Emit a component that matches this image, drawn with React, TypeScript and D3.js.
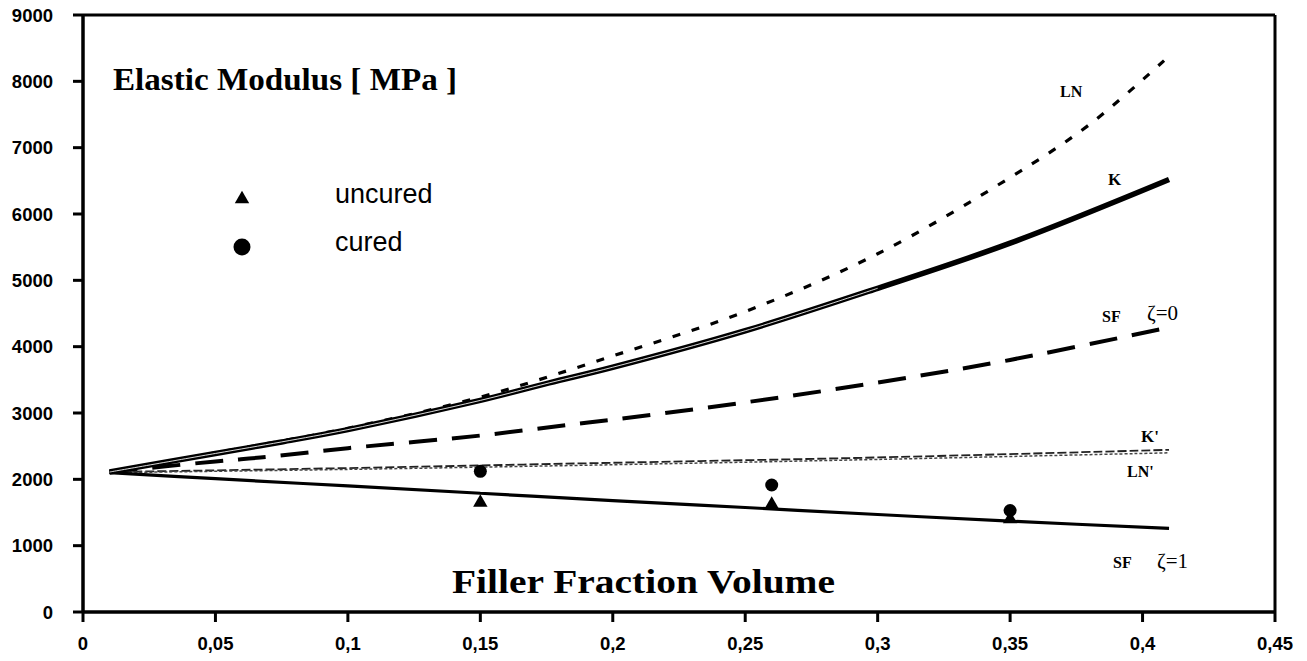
import React from 'react';
import * as d3 from 'd3';

// x: filler fraction volume, y: elastic modulus [MPa]
const xK = [0.01, 0.05, 0.075, 0.1, 0.15, 0.176, 0.2, 0.25, 0.3, 0.35, 0.41];
const yK = [2110, 2390, 2564, 2750, 3190, 3454, 3690, 4240, 4880, 5560, 6520];

const xLN = [0.01, 0.05, 0.1, 0.15, 0.2, 0.25, 0.3, 0.35, 0.38, 0.41];
const yLN = [2110, 2400, 2770, 3240, 3860, 4530, 5400, 6550, 7350, 8380];

const xSF0 = [0.01, 0.05, 0.07, 0.1, 0.15, 0.183, 0.2, 0.25, 0.3, 0.35, 0.41];
const ySF0 = [2110, 2270, 2340, 2470, 2660, 2820, 2900, 3160, 3460, 3800, 4290];

const xKp = [0.01, 0.1, 0.2, 0.3, 0.41];
const yKp = [2110, 2170, 2250, 2330, 2445];
const xLNp = [0.01, 0.1, 0.2, 0.3, 0.41];
const yLNp = [2100, 2150, 2220, 2300, 2400];

const xSF1 = [0.01, 0.05, 0.1, 0.15, 0.2, 0.25, 0.3, 0.35, 0.41];
const ySF1 = [2100, 2010, 1900, 1790, 1680, 1575, 1470, 1370, 1260];

const xMeas = [0.15, 0.26, 0.35];
const yUncured = [1650, 1620, 1400];
const yCured = [2120, 1915, 1530];

const xTicks = [0, 0.05, 0.1, 0.15, 0.2, 0.25, 0.3, 0.35, 0.4, 0.45];
const yTicks = [0, 1000, 2000, 3000, 4000, 5000, 6000, 7000, 8000, 9000];

const W = 1307;
const H = 661;
const m = { left: 83, right: 1275, top: 15, bottom: 612 };

const x = d3.scaleLinear().domain([0, 0.45]).range([m.left, m.right]);
const y = d3.scaleLinear().domain([0, 9000]).range([m.bottom, m.top]);

const zip = (xs: number[], ys: number[]) => xs.map((v, i) => [v, ys[i]] as [number, number]);

const line = d3
  .line<[number, number]>()
  .x(d => x(d[0]))
  .y(d => y(d[1]))
  .curve(d3.curveCatmullRom);

const fmt = (v: number) => String(v).replace('.', ',');

const sans = '"Liberation Sans", Arial, sans-serif';
const serif = '"Liberation Serif", "Times New Roman", serif';

export default function App() {
  const kData = zip(xK, yK);
  return (
    <svg width={W} height={H} style={{ position: 'absolute', left: 0, top: 0, background: '#fff' }}>
      {/* curves */}
      <path d={line(zip(xLN, yLN)) || ''} fill="none" stroke="#000" strokeWidth={3.2} strokeDasharray="8 12" />
      <path d={line(zip(xSF0, ySF0)) || ''} fill="none" stroke="#000" strokeWidth={4} strokeDasharray="28 15" />
      <path d={line(zip(xKp, yKp)) || ''} fill="none" stroke="#222" strokeWidth={1.8} strokeDasharray="9 3" />
      <path d={line(zip(xLNp, yLNp)) || ''} fill="none" stroke="#444" strokeWidth={1.5} strokeDasharray="3 2" />
      <path d={line(zip(xSF1, ySF1)) || ''} fill="none" stroke="#000" strokeWidth={3.2} />
      <path d={line(kData) || ''} fill="none" stroke="#000" strokeWidth={5.5} />
      <path d={line(kData.filter(d => d[0] <= 0.3)) || ''} fill="none" stroke="#fff" strokeWidth={1} opacity={0.85} />

      {/* measured points */}
      {xMeas.map((v, i) => (
        <path
          key={'t' + i}
          d={d3.symbol(d3.symbolTriangle, 90)() || ''}
          transform={`translate(${x(v)},${y(yUncured[i])})`}
          fill="#000"
        />
      ))}
      {xMeas.map((v, i) => (
        <circle key={'c' + i} cx={x(v)} cy={y(yCured[i])} r={6.5} fill="#000" />
      ))}

      {/* frame */}
      <line x1={m.left} x2={m.right} y1={m.top} y2={m.top} stroke="#000" strokeWidth={3} />
      <line x1={m.right} x2={m.right} y1={m.top} y2={m.bottom} stroke="#000" strokeWidth={3} />
      <line x1={m.left} x2={m.right + 1} y1={m.bottom} y2={m.bottom} stroke="#000" strokeWidth={3.5} />
      <line x1={m.left} x2={m.left} y1={m.top - 1} y2={m.bottom + 1} stroke="#000" strokeWidth={3.5} />

      {/* y axis */}
      {yTicks.map(t => (
        <g key={'y' + t}>
          <line x1={m.left - 10} x2={m.left} y1={y(t)} y2={y(t)} stroke="#000" strokeWidth={3} />
          <text x={53} y={y(t)} dy="0.36em" textAnchor="end" fontFamily={sans} fontWeight="bold" fontSize={18.5}>
            {t}
          </text>
        </g>
      ))}

      {/* x axis */}
      {xTicks.map(t => (
        <g key={'x' + t}>
          <line x1={x(t)} x2={x(t)} y1={m.bottom} y2={m.bottom + 10} stroke="#000" strokeWidth={3} />
          <text x={x(t)} y={650} textAnchor="middle" fontFamily={sans} fontWeight="bold" fontSize={18.5}>
            {fmt(t)}
          </text>
        </g>
      ))}

      {/* titles */}
      <text x={113} y={90} fontFamily={serif} fontWeight="bold" fontSize={32} textLength={344} lengthAdjust="spacingAndGlyphs">
        Elastic Modulus [ MPa ]
      </text>
      <text x={452} y={593} fontFamily={serif} fontWeight="bold" fontSize={33} textLength={383} lengthAdjust="spacingAndGlyphs">
        Filler Fraction Volume
      </text>

      {/* legend */}
      <path d={d3.symbol(d3.symbolTriangle, 90)() || ''} transform="translate(242,199)" fill="#000" />
      <text x={335} y={203} fontFamily={sans} fontSize={27}>uncured</text>
      <circle cx={242} cy={247} r={8.5} fill="#000" />
      <text x={335} y={251} fontFamily={sans} fontSize={27}>cured</text>

      {/* curve labels */}
      <text x={1060} y={97} fontFamily={serif} fontWeight="bold" fontSize={16}>LN</text>
      <text x={1108} y={185} fontFamily={serif} fontWeight="bold" fontSize={17}>K</text>
      <text x={1102} y={322} fontFamily={serif} fontWeight="bold" fontSize={16}>SF</text>
      <text x={1147} y={320} fontFamily={serif} fontSize={21}>ζ=0</text>
      <text x={1141} y={442} fontFamily={serif} fontWeight="bold" fontSize={17}>K'</text>
      <text x={1127} y={477} fontFamily={serif} fontWeight="bold" fontSize={16}>LN'</text>
      <text x={1113} y={568} fontFamily={serif} fontWeight="bold" fontSize={16}>SF</text>
      <text x={1157} y={568} fontFamily={serif} fontSize={21}>ζ=1</text>
    </svg>
  );
}
